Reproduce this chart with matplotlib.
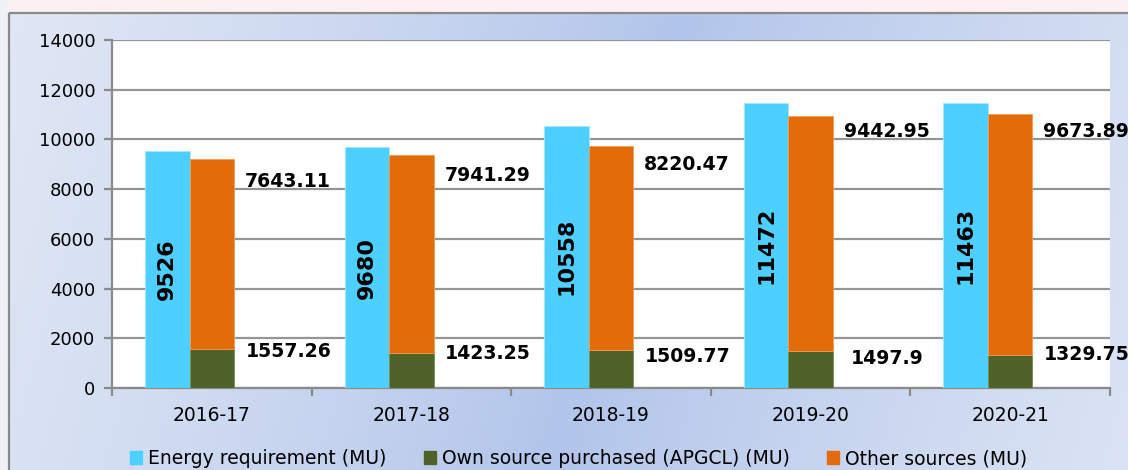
import numpy as np
import matplotlib
matplotlib.use("Agg")
import matplotlib.pyplot as plt
from matplotlib.patches import Rectangle, Patch
from matplotlib.colors import to_rgb

# energy balance data (MU)
years = ["2016-17", "2017-18", "2018-19", "2019-20", "2020-21"]
requirement = [9526, 9680, 10558, 11472, 11463]
own_source = [1557.26, 1423.25, 1509.77, 1497.9, 1329.75]
other_sources = [7643.11, 7941.29, 8220.47, 9442.95, 9673.89]
own_labels = ["1557.26", "1423.25", "1509.77", "1497.9", "1329.75"]
other_labels = ["7643.11", "7941.29", "8220.47", "9442.95", "9673.89"]

# heights where the value labels sit next to the stacks
own_label_y = [1460, 1400, 1280, 1205, 1330]
other_label_y = [8300, 8560, 9010, 10310, 10310]

c_req = "#4dcfff"
c_own = "#4f6228"
c_other = "#e36c0a"

W, H = 1128, 470
fig = plt.figure(figsize=(W / 100, H / 100), dpi=100)

# chart-area background: pale at the edges, blue toward the middle
bg = fig.add_axes([0, 0, 1, 1], zorder=-10)
xx, yy = np.meshgrid(np.linspace(0, 1, W), np.linspace(0, 1, H))
t = np.clip(1 - np.abs(xx - 0.55 + 0.12 * (yy - 0.5)) / 0.62, 0, 1) ** 1.3
light = np.array(to_rgb("#e0e7f5"))
blue = np.array(to_rgb("#b2c5ea"))
img = light[None, None, :] * (1 - t[..., None]) + blue[None, None, :] * t[..., None]
img[:12, :, :] = to_rgb("#fcf0f2")
img[:, :8, :] = to_rgb("#eef1f6")
bg.imshow(img, aspect="auto", interpolation="bilinear")
bg.set_axis_off()
bg.add_patch(Rectangle((8, 12), W + 10, H + 10, fill=False,
                       edgecolor="#8a8a8a", linewidth=1.6))

ax = fig.add_axes([112 / W, (H - 388) / H, (1110 - 112) / W, 348 / H])
ax.set_facecolor("white")

x = np.arange(len(years))
w = 0.223
ax.bar(x - w, requirement, w, color=c_req, edgecolor="#a8e6ff", linewidth=0.6,
       label="Energy requirement (MU)", zorder=3)
ax.bar(x, own_source, w, color=c_own, edgecolor="#7a8c50", linewidth=0.6,
       label="Own source purchased (APGCL) (MU)", zorder=3)
ax.bar(x, other_sources, w, bottom=own_source, color=c_other,
       edgecolor="#f59a55", linewidth=0.6, label="Other sources (MU)", zorder=3)

lab_font = dict(fontsize=13.6, fontweight="bold", color="black", zorder=5)
for i in range(len(years)):
    ax.text(x[i] - w, requirement[i] / 2, str(requirement[i]), rotation=90,
            ha="center", va="center", fontsize=16, fontweight="bold",
            color="black", zorder=5)
    ax.text(x[i] + 0.38, other_label_y[i], other_labels[i], ha="center",
            va="center", clip_on=False, **lab_font)
    ax.text(x[i] + 0.385, own_label_y[i], own_labels[i], ha="center",
            va="center", clip_on=False, **lab_font)

ax.set_xlim(-0.5, len(years) - 0.5)
ax.set_ylim(0, 14000)
ax.set_yticks(range(0, 14001, 2000))
ax.yaxis.grid(True, color="#959595", linewidth=1.6, zorder=0)
ax.set_axisbelow(True)
ax.set_xticks(x)
ax.set_xticklabels(years)
ax.set_xticks(np.arange(-0.5, len(years)), minor=True)
ax.tick_params(axis="x", which="major", length=0, pad=13, labelsize=13.5)
ax.tick_params(axis="x", which="minor", length=6, width=1.6, color="#8a8a8a")
ax.tick_params(axis="y", length=6, width=1.6, color="#8a8a8a", pad=6,
               labelsize=13)
for side in ["top", "right"]:
    ax.spines[side].set_visible(False)
for side in ["left", "bottom"]:
    ax.spines[side].set_color("#8a8a8a")
    ax.spines[side].set_linewidth(1.6)

handles = [Patch(color=c_req), Patch(color=c_own), Patch(color=c_other)]
names = ["Energy requirement (MU)", "Own source purchased (APGCL) (MU)",
         "Other sources (MU)"]
fig.legend(handles, names, loc="lower center", bbox_to_anchor=(0.513, -0.032),
           ncol=3, frameon=False, fontsize=13.5, handlelength=0.65,
           handleheight=0.65, handletextpad=0.3, columnspacing=2.0)

fig.savefig("out.png", dpi=100)
